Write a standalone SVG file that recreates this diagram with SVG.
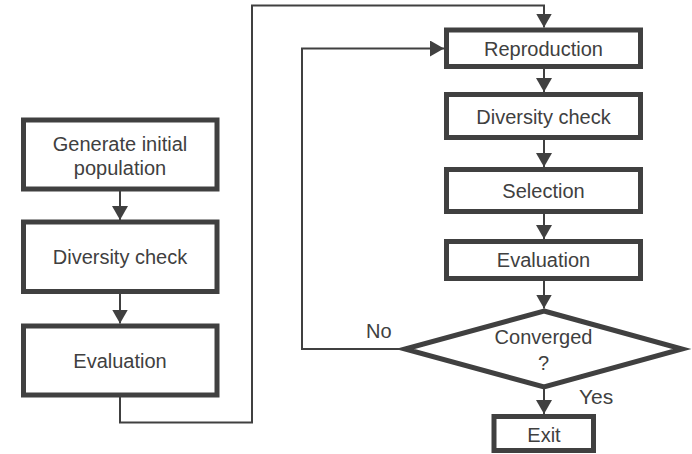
<svg xmlns="http://www.w3.org/2000/svg" width="692" height="454" viewBox="0 0 692 454">
  <style>
    .box { fill: #ffffff; stroke: #404040; stroke-width: 5; }
    .lbl { font-family: "Liberation Sans", Arial, sans-serif; font-size: 20px; fill: #404040; text-anchor: middle; }
    .side { font-family: "Liberation Sans", Arial, sans-serif; font-size: 20px; fill: #404040; }
    .conn { fill: none; stroke: #404040; stroke-width: 2; }
  </style>
  <defs>
    <marker id="arrow" markerUnits="userSpaceOnUse" markerWidth="16" markerHeight="16" refX="14" refY="8" orient="auto">
      <path d="M0,0 L14,8 L0,16 z" fill="#404040"/>
    </marker>
  </defs>
  <rect width="692" height="454" fill="#ffffff"/>

  <g id="connectors">
    <path class="conn" d="M120,191 V220" marker-end="url(#arrow)"/>
    <path class="conn" d="M120,294 V323.5" marker-end="url(#arrow)"/>
    <path class="conn" d="M120,397 V422.5 H252 V5.5 H544 V27.5" marker-end="url(#arrow)"/>
    <path class="conn" d="M544,69 V92" marker-end="url(#arrow)"/>
    <path class="conn" d="M544,140 V167" marker-end="url(#arrow)"/>
    <path class="conn" d="M544,214 V239" marker-end="url(#arrow)"/>
    <path class="conn" d="M544,281 V308.5" marker-end="url(#arrow)"/>
    <path class="conn" d="M544,389 V414" marker-end="url(#arrow)"/>
    <path class="conn" d="M405,349 H302 V48.5 H444" marker-end="url(#arrow)"/>
  </g>

  <g id="generate">
    <rect class="box" x="23.5" y="120" width="193.5" height="69"/>
    <text class="lbl" x="120" y="150.5">Generate initial</text>
    <text class="lbl" x="120" y="175">population</text>
  </g>
  <g id="diversity1">
    <rect class="box" x="23.5" y="222" width="193.5" height="69.5"/>
    <text class="lbl" x="120" y="264">Diversity check</text>
  </g>
  <g id="evaluation1">
    <rect class="box" x="23.5" y="326" width="193.5" height="69"/>
    <text class="lbl" x="120" y="368">Evaluation</text>
  </g>

  <g id="reproduction">
    <rect class="box" x="446.5" y="30" width="194" height="36.5"/>
    <text class="lbl" x="543.5" y="56">Reproduction</text>
  </g>
  <g id="diversity2">
    <rect class="box" x="446.5" y="94.5" width="194" height="43"/>
    <text class="lbl" x="543.5" y="123.5">Diversity check</text>
  </g>
  <g id="selection">
    <rect class="box" x="446.5" y="169.5" width="194" height="42"/>
    <text class="lbl" x="543.5" y="197.5">Selection</text>
  </g>
  <g id="evaluation2">
    <rect class="box" x="446.5" y="241.5" width="194" height="37"/>
    <text class="lbl" x="543.5" y="267">Evaluation</text>
  </g>
  <g id="converged">
    <polygon class="box" points="544,311 682,349 544,387 405,349"/>
    <text class="lbl" x="543.5" y="344">Converged</text>
    <text class="lbl" x="543.5" y="369.5">?</text>
  </g>
  <g id="exit">
    <rect class="box" x="494" y="416.5" width="99.5" height="34"/>
    <text class="lbl" x="544" y="442">Exit</text>
  </g>

  <text class="side" x="366" y="337.5">No</text>
  <text class="side" x="579" y="404" style="font-size:21px">Yes</text>
</svg>
